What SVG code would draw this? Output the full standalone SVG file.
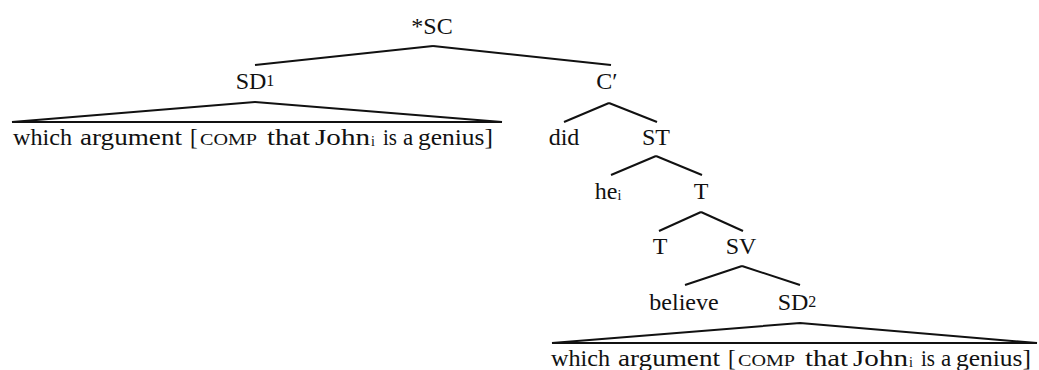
<svg xmlns="http://www.w3.org/2000/svg" width="1039" height="370" viewBox="0 0 1039 370">
<style>
text{font-family:"Liberation Serif","Times New Roman",serif;font-size:23px;fill:#111}
.m{text-anchor:middle;font-size:24px}
.sc{font-size:16px}
.sub{font-size:14px}
.sup{font-size:16px}
.e line,.e polygon{stroke:#111;stroke-width:2;fill:none;stroke-linejoin:miter}
</style>
<rect width="1039" height="370" fill="#fff"/>
<g id="connectors" class="e">
<line x1="433" y1="46" x2="255" y2="65"/>
<line x1="433" y1="46" x2="611" y2="65"/>
<polygon points="12,122 255,102 502,122"/>
<line x1="609" y1="103" x2="564" y2="122"/>
<line x1="609" y1="103" x2="657" y2="122"/>
<line x1="656" y1="156" x2="611" y2="175"/>
<line x1="656" y1="156" x2="702" y2="175"/>
<line x1="701" y1="212" x2="659" y2="231"/>
<line x1="701" y1="212" x2="743" y2="231"/>
<line x1="742" y1="266" x2="685" y2="285"/>
<line x1="742" y1="266" x2="800" y2="285"/>
<polygon points="552,343 800,323 1037,343"/>
</g>
<g id="n-SC"><text class="m" x="432" y="34">*SC</text></g>
<g id="n-SD1"><text class="m" x="255" y="89">SD<tspan class="sup" dy="-3">1</tspan></text></g>
<g id="n-SD1-yield"><text y="145"><tspan x="13" textLength="59" lengthAdjust="spacingAndGlyphs">which</tspan> <tspan x="80" textLength="102" lengthAdjust="spacingAndGlyphs">argument</tspan> <tspan x="190">[</tspan><tspan x="200" class="sc" textLength="57" lengthAdjust="spacingAndGlyphs">COMP</tspan> <tspan x="267" textLength="43" lengthAdjust="spacingAndGlyphs">that</tspan> <tspan x="315" textLength="55" lengthAdjust="spacingAndGlyphs">John</tspan><tspan x="371" class="sub" dy="1">i</tspan> <tspan x="383" dy="-1" textLength="14" lengthAdjust="spacingAndGlyphs">is</tspan> <tspan x="403">a</tspan> <tspan x="418" textLength="75" lengthAdjust="spacingAndGlyphs">genius]</tspan></text></g>
<g id="n-Cbar"><text class="m" x="607" y="89">C′</text></g>
<g id="n-did"><text class="m" x="564" y="145">did</text></g>
<g id="n-ST"><text class="m" x="656" y="145">ST</text></g>
<g id="n-he"><text class="m" x="608" y="199">he<tspan class="sub" dy="1">i</tspan></text></g>
<g id="n-T1"><text class="m" x="701" y="199">T</text></g>
<g id="n-T2"><text class="m" x="660" y="254">T</text></g>
<g id="n-SV"><text class="m" x="741" y="254">SV</text></g>
<g id="n-believe"><text class="m" x="684" y="310">believe</text></g>
<g id="n-SD2"><text class="m" x="797" y="310">SD<tspan class="sup" dy="-3">2</tspan></text></g>
<g id="n-SD2-yield"><text y="366"><tspan x="551" textLength="59" lengthAdjust="spacingAndGlyphs">which</tspan> <tspan x="618" textLength="102" lengthAdjust="spacingAndGlyphs">argument</tspan> <tspan x="728">[</tspan><tspan x="738" class="sc" textLength="57" lengthAdjust="spacingAndGlyphs">COMP</tspan> <tspan x="805" textLength="43" lengthAdjust="spacingAndGlyphs">that</tspan> <tspan x="853" textLength="55" lengthAdjust="spacingAndGlyphs">John</tspan><tspan x="909" class="sub" dy="1">i</tspan> <tspan x="921" dy="-1" textLength="14" lengthAdjust="spacingAndGlyphs">is</tspan> <tspan x="941">a</tspan> <tspan x="956" textLength="75" lengthAdjust="spacingAndGlyphs">genius]</tspan></text></g>
</svg>
